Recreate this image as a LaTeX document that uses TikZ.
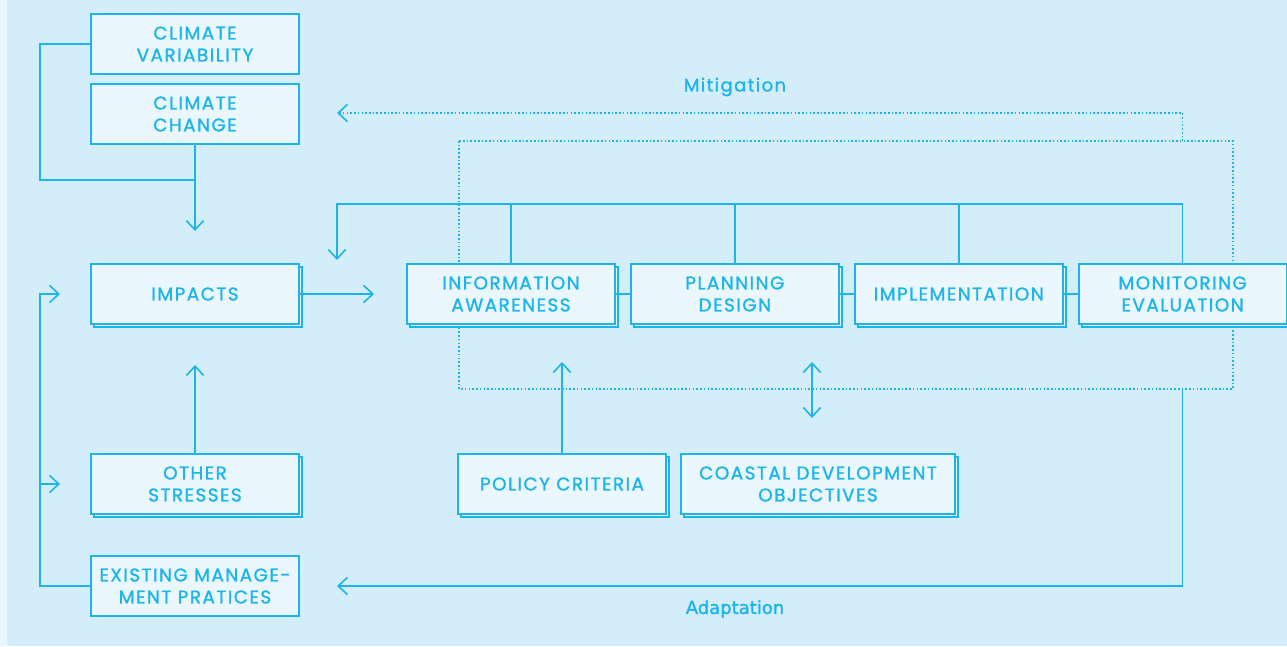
\documentclass[tikz,border=0pt]{standalone}
\usepackage{fontspec}
\setmainfont{Poppins}[FakeBold=1.2,LetterSpace=8]
\newfontfamily\labelfont{DejaVu Sans}[FakeBold=1.5]
\usetikzlibrary{arrows.meta,positioning,shadows}
\definecolor{bgblue}{HTML}{D3EEFA}
\definecolor{stripblue}{HTML}{E8F6FD}
\definecolor{boxfill}{HTML}{EAF7FE}
\definecolor{lineblue}{HTML}{1BB4EC}
\tikzstyle{stage}=[
	rectangle,
	draw=lineblue,
	line width=1.4pt,
	fill=boxfill,
	text=lineblue,
	align=center,
	minimum width=156pt,
	minimum height=45pt,
	inner sep=2pt,
	font=\fontsize{13.8}{16.5}\selectfont,
	node distance=10.5pt
]
\tikzstyle{stacked}=[
	stage,
	copy shadow={shadow xshift=2.25pt, shadow yshift=-2.25pt}
]
\tikzstyle{wire}=[
	draw=lineblue,
	line width=1.2pt
]
\tikzstyle{flow}=[
	wire,
	->,
	>={Straight Barb[length=7pt,width=13pt]}
]
\tikzstyle{feedback}=[
	wire,
	dash pattern=on 1.2pt off 1.6pt
]

\begin{document}
\begin{tikzpicture}[x=0.75pt,y=-0.75pt]
\fill[bgblue] (0,0) rectangle (1287,646);
\fill[stripblue] (0,0) rectangle (7,646);
\useasboundingbox (0,0) rectangle (1287,646);
% dotted loop round the stages
\coordinate (loop-nw) at (459,141);
\coordinate (loop-se) at (1233,389);
\draw[feedback] (loop-nw) rectangle (loop-se);

\node [stage] (variability) at (195,44) {CLIMATE\\VARIABILITY};
\node [stage] (change) at (195,114) {CLIMATE\\CHANGE};
\node [stacked] (impacts) at (195,294) {IMPACTS};
\node [stacked] (stresses) at (195,484) {OTHER\\STRESSES};
\node [stage] (practices) at (195,586) {EXISTING MANAGE-\\MENT PRATICES};
\node [stacked] (information) at (511,294) {INFORMATION\\AWARENESS};
\node [stacked] (planning) [right=of information] {PLANNING\\DESIGN};
\node [stacked] (implementation) [right=of planning] {IMPLEMENTATION};
\node [stacked] (monitoring) [right=of implementation] {MONITORING\\EVALUATION};
\node [stacked] (policy) at (562,484) {POLICY CRITERIA};
\node [stacked, minimum width=205.5pt] (objectives) at (818,484) {COASTAL DEVELOPMENT\\OBJECTIVES};
\node [text=lineblue, font=\fontsize{13.5}{15}\selectfont] (mitigation) at (735,87) {Mitigation};
\node [text=lineblue, font=\labelfont\fontsize{13.5}{15}\selectfont] (adaptation) at (735,609) {Adaptation};

% left side
\coordinate (change-join) at (195,180);
\coordinate (impacts-tip) at (195,231);
\coordinate (side-tip) at (60,294);
\coordinate (side-branch) at (41,484);
\coordinate (stresses-tip) at (60,484);
\coordinate (impacts-up) at (195,365);
\coordinate (info-tip) at (374,294);
\draw[wire] (variability.west) -- ++(-50,0) |- (change-join);
\draw[flow] (change.south) -- (impacts-tip);
\draw[flow] (practices.west) -- ++(-50,0) |- (side-tip);
\draw[flow] (side-branch) -- (stresses-tip);
\draw[flow] (stresses.north) -- (impacts-up);
\draw[flow] (impacts.east) -- (info-tip);

% stages
\coordinate (bus-corner) at (337,204);
\coordinate (bus-tip) at (337,260);
\draw[flow] (monitoring.north) |- (bus-corner) -- (bus-tip);
\draw[wire] (information.north) -- (information.north |- bus-corner);
\draw[wire] (planning.north) -- (planning.north |- bus-corner);
\draw[wire] (implementation.north) -- (implementation.north |- bus-corner);
\draw[wire] (information.east) -- (planning.west);
\draw[wire] (planning.east) -- (implementation.west);
\draw[wire] (implementation.east) -- (monitoring.west);

% inputs below
\coordinate (policy-tip) at (562,362);
\coordinate (goals-top) at (812,362);
\coordinate (goals-bottom) at (812,418);
\draw[flow] (policy.north) -- (policy-tip);
\draw[flow, <->] (goals-bottom) -- (goals-top);

% feedback
\coordinate (mitigation-tip) at (337,113);
\coordinate (adaptation-tip) at (337,586);
\draw[flow, feedback] (monitoring.north |- loop-nw) |- (mitigation-tip);
\draw[flow] (monitoring.south |- loop-se) |- (adaptation-tip);
\end{tikzpicture}
\end{document}
